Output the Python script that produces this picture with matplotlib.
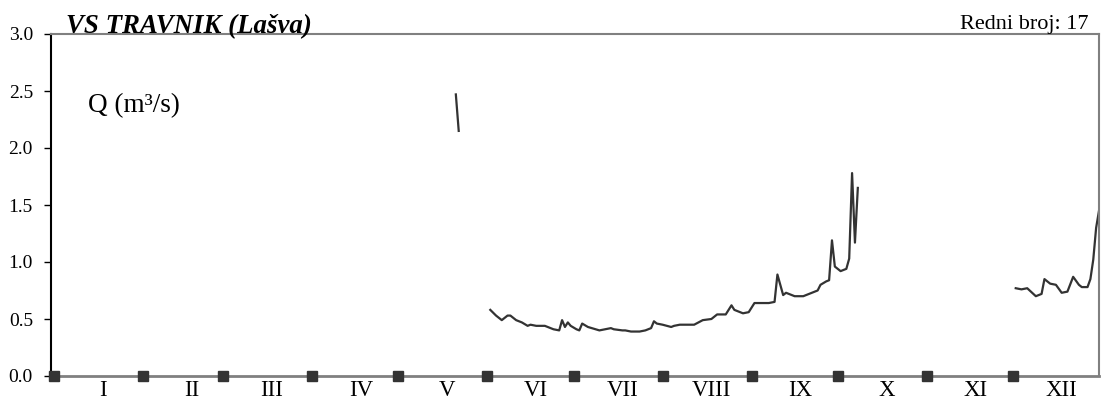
import matplotlib.pyplot as plt
import numpy as np

# daily discharge Q (m3/s), day of year; gaps = missing data
may_days = [141, 142]
may_q = [2.47, 2.15]

summer_days = [153, 155, 157, 159, 160, 162, 164, 166, 167, 169, 172, 173, 175, 177,
               178, 179, 180, 181, 183, 184, 185, 187, 191, 193, 195, 196, 199, 200,
               202, 205, 207, 209, 210, 211, 213, 216, 217, 219, 223, 224, 227, 230,
               232, 235, 237, 238, 241, 243, 245, 248, 250, 252, 253, 255, 256, 259,
               262, 264, 267, 268, 270, 271, 272, 273, 275, 277, 278, 279, 280, 281]
summer_q = [0.58, 0.53, 0.49, 0.53, 0.53, 0.49, 0.47, 0.44, 0.45, 0.44, 0.44, 0.43, 0.41, 0.40,
            0.49, 0.43, 0.47, 0.44, 0.41, 0.40, 0.46, 0.43, 0.40, 0.41, 0.42, 0.41, 0.40, 0.40,
            0.39, 0.39, 0.40, 0.42, 0.48, 0.46, 0.45, 0.43, 0.44, 0.45, 0.45, 0.45, 0.49, 0.50,
            0.54, 0.54, 0.62, 0.58, 0.55, 0.56, 0.64, 0.64, 0.64, 0.65, 0.89, 0.71, 0.73, 0.70,
            0.70, 0.72, 0.75, 0.80, 0.83, 0.84, 1.19, 0.96, 0.92, 0.94, 1.03, 1.78, 1.17, 1.65]

dec_days = [336, 338, 340, 343, 345, 346, 348, 350, 352, 354, 356, 358, 359, 361, 362, 363, 364, 365]
dec_q = [0.77, 0.76, 0.77, 0.70, 0.72, 0.85, 0.81, 0.80, 0.73, 0.74, 0.87, 0.80, 0.78, 0.78,
         0.85, 1.02, 1.30, 1.45]

month_start = [1, 32, 60, 91, 121, 152, 182, 213, 244, 274, 305, 335]
month_labels = ['I', 'II', 'III', 'IV', 'V', 'VI', 'VII', 'VIII', 'IX', 'X', 'XI', 'XII']

plt.rcParams['font.family'] = ['Liberation Serif', 'DejaVu Serif']

fig = plt.figure(figsize=(11.01, 4.05), dpi=100)
ax = fig.add_axes([51 / 1101, 1 - 376 / 405, 1048 / 1101, 342 / 405])

line_col = '#333333'
for d, q in [(may_days, may_q), (summer_days, summer_q), (dec_days, dec_q)]:
    ax.plot(d, q, color=line_col, lw=1.6, solid_joinstyle='round')

# month boundary markers on the zero line
ax.plot(month_start, np.zeros(len(month_start)), 's', color=line_col, ms=7,
        clip_on=False, zorder=5)

ax.set_xlim(0, 365)
ax.set_ylim(0, 3.0)
ax.set_yticks(np.arange(0, 3.01, 0.5))
ax.set_yticklabels([f'{v:.1f}' for v in np.arange(0, 3.01, 0.5)], fontsize=14)
ax.tick_params(axis='y', length=5, width=1, pad=8, color='black')

ax.set_xticks([m + 17 for m in month_start])
ax.set_xticklabels(month_labels, fontsize=16.5)
ax.tick_params(axis='x', length=0, pad=3)

for s in ['top', 'right']:
    ax.spines[s].set_color('#808080')
    ax.spines[s].set_linewidth(1.5)
ax.spines['bottom'].set_color('#808080')
ax.spines['bottom'].set_linewidth(2)
ax.spines['left'].set_color('black')
ax.spines['left'].set_linewidth(1.5)

fig.text(66 / 1101, 1 - 33 / 405, 'VS TRAVNIK (Lašva)', fontsize=19.4,
         fontweight='bold', fontstyle='italic', ha='left', va='baseline')
fig.text(1088 / 1101, 1 - 29 / 405, 'Redni broj: 17', fontsize=16,
         ha='right', va='baseline')
ax.text(88 / 1101, 1 - 112 / 405, 'Q (m³/s)', fontsize=19.5, transform=fig.transFigure,
        ha='left', va='baseline')

fig.savefig('out.png', dpi=100)
